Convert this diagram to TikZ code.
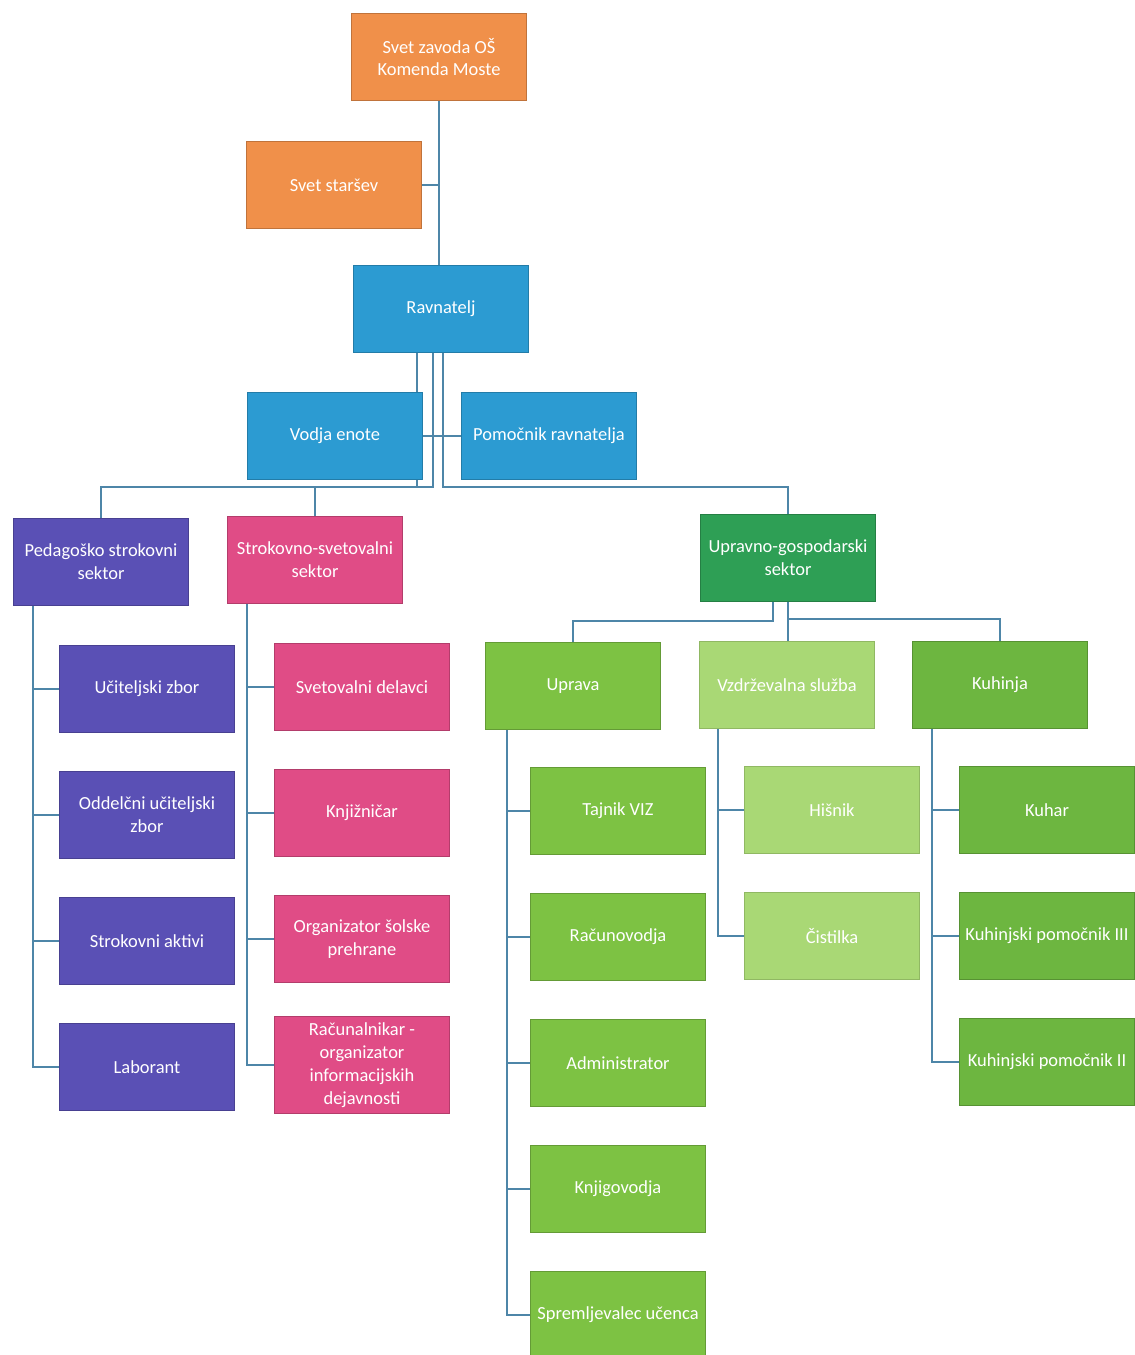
\documentclass[tikz,border=0pt]{standalone}
\usepackage{fontspec}
\setmainfont{Carlito}
\usetikzlibrary{backgrounds}

\definecolor{councilc}{HTML}{F0904A}
\definecolor{leadc}{HTML}{2C9BD2}
\definecolor{pedagc}{HTML}{5A50B5}
\definecolor{advisc}{HTML}{E04C86}
\definecolor{sectorc}{HTML}{2E9F55}
\definecolor{officec}{HTML}{7DC243}
\definecolor{upkeepc}{HTML}{A9D875}
\definecolor{kitchenc}{HTML}{6DB640}
\definecolor{linec}{HTML}{4E86A8}

\begin{document}
\begin{tikzpicture}[x=0.02cm, y=-0.02cm, node distance = {25.2mm},
	main/.style = {draw, rectangle, minimum width=3.5cm, minimum height=1.74cm, text=white, align=center, font=\fontsize{10.5}{13}\selectfont, line width=0.6pt},
	council/.style = {main, fill=councilc, draw=councilc!80!black},
	lead/.style = {main, fill=leadc, draw=leadc!80!black},
	pedag/.style = {main, fill=pedagc, draw=pedagc!80!black},
	advis/.style = {main, fill=advisc, draw=advisc!80!black},
	sector/.style = {main, fill=sectorc, draw=sectorc!80!black},
	office/.style = {main, fill=officec, draw=officec!80!black},
	upkeep/.style = {main, fill=upkeepc, draw=upkeepc!85!black},
	kitchen/.style = {main, fill=kitchenc, draw=kitchenc!80!black},
	link/.style = {draw=linec, line width=0.8pt}]
	\useasboundingbox (0,0) rectangle (1134,1355);
	% vodstvo
	\node[council] (1) at (439,57) {Svet zavoda OŠ\\Komenda Moste};
	\node[council] (2) at (334,185) {Svet staršev};
	\node[lead] (3) at (441,309) {Ravnatelj};
	\node[lead] (4) at (335,436) {Vodja enote};
	\node[lead] (5) at (549,436) {Pomočnik ravnatelja};
	% sektorji
	\node[pedag] (6) at (101,562) {Pedagoško strokovni\\sektor};
	\node[advis] (7) at (315,560) {Strokovno-svetovalni\\sektor};
	\node[sector] (8) at (788,558) {Upravno-gospodarski\\sektor};
	\node[pedag] (9) at (147,689) {Učiteljski zbor};
	\node[pedag] (10) [below of=9] {Oddelčni učiteljski\\zbor};
	\node[pedag] (11) [below of=10] {Strokovni aktivi};
	\node[pedag] (12) [below of=11] {Laborant};
	\node[advis] (13) at (362,687) {Svetovalni delavci};
	\node[advis] (14) [below of=13] {Knjižničar};
	\node[advis] (15) [below of=14] {Organizator šolske\\prehrane};
	\node[advis] (16) [below of=15] {Računalnikar -\\organizator\\informacijskih\\dejavnosti};
	\node[office] (17) at (573,686) {Uprava};
	\node[upkeep] (18) at (787,685) {Vzdrževalna služba};
	\node[kitchen] (19) at (1000,685) {Kuhinja};
	\node[office] (20) at (618,811) {Tajnik VIZ};
	\node[office] (21) [below of=20] {Računovodja};
	\node[office] (22) [below of=21] {Administrator};
	\node[office] (23) [below of=22] {Knjigovodja};
	\node[office] (24) [below of=23] {Spremljevalec učenca};
	\node[upkeep] (25) at (832,810) {Hišnik};
	\node[upkeep] (26) [below of=25] {Čistilka};
	\node[kitchen] (27) at (1047,810) {Kuhar};
	\node[kitchen] (28) [below of=27] {Kuhinjski pomočnik III};
	\node[kitchen] (29) [below of=28] {Kuhinjski pomočnik II};
	\begin{scope}[on background layer]
		\fill[white] (0,0) rectangle (1134,1355);
		\draw[link] (1) -- (1 |- 3.north);
		\draw[link] (2) -- (2 -| 1);
		\draw[link] (4) -- (4 -| 5.west);
		\draw[link] ([xshift=-0.48cm]3.south) -- ++(0,134) -| (6);
		\draw[link] ([xshift=-0.16cm]3.south) -- ++(0,134) -| (7);
		\draw[link] ([xshift=0.04cm]3.south) -- ++(0,134) -| (8);
		\draw[link] ([xshift=-0.3cm]8.south) -- ++(0,19) -| (17);
		\draw[link] (8) -- (8 |- 18.north);
		\draw[link] (8.south) -- ++(0,17) -| (19);
		\foreach \n in {9,...,12}
			\draw[link] ([xshift=0.4cm]6.south west) |- (\n.west);
		\foreach \n in {13,...,16}
			\draw[link] ([xshift=0.4cm]7.south west) |- (\n.west);
		\foreach \n in {20,...,24}
			\draw[link] ([xshift=0.44cm]17.south west) |- (\n.west);
		\foreach \n in {25,26}
			\draw[link] ([xshift=0.38cm]18.south west) |- (\n.west);
		\foreach \n in {27,...,29}
			\draw[link] ([xshift=0.4cm]19.south west) |- (\n.west);
	\end{scope}
\end{tikzpicture}
\end{document}
